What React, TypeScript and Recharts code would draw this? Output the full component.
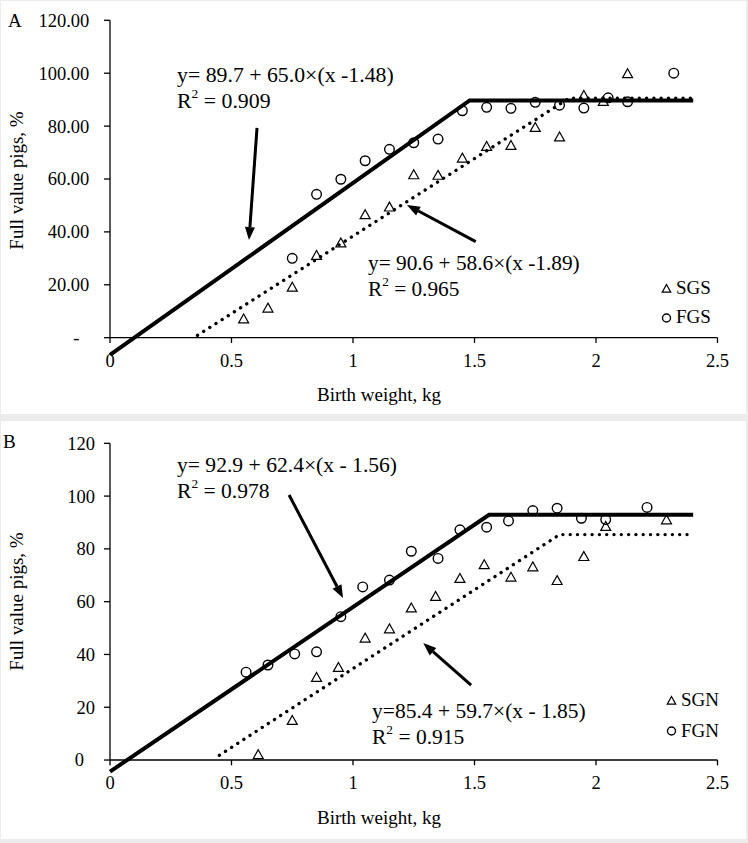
import { ComposedChart, Line, Scatter, XAxis, YAxis, ReferenceLine } from 'recharts'

const FONT = '"Liberation Serif", "Times New Roman", serif'

const xTicks = [0, 0.5, 1, 1.5, 2, 2.5]
const xTickLabels = ['0', '0.5', '1', '1.5', '2', '2.5']
const yTicks = [0, 20, 40, 60, 80, 100, 120]
const yTickLabelsA = ['-', '20.00', '40.00', '60.00', '80.00', '100.00', '120.00']
const yTickLabelsB = ['0', '20', '40', '60', '80', '100', '120']

// panel A: SGS (triangles) and FGS (circles)
const sgsX = [0.55, 0.65, 0.75, 0.85, 0.95, 1.05, 1.15, 1.25, 1.35, 1.45, 1.55, 1.65, 1.75, 1.85, 1.95, 2.03, 2.13]
const sgsY = [7.0, 11.1, 19.0, 31.0, 35.7, 46.4, 49.3, 61.5, 61.3, 67.8, 72.2, 72.6, 79.4, 75.8, 91.5, 89.2, 99.7]
const fgsX = [0.75, 0.85, 0.95, 1.05, 1.15, 1.25, 1.35, 1.45, 1.55, 1.65, 1.75, 1.85, 1.95, 2.05, 2.13, 2.32]
const fgsY = [30.0, 54.2, 59.9, 66.9, 71.2, 73.7, 75.1, 85.8, 87.1, 86.7, 89.0, 87.9, 86.8, 90.7, 89.2, 100.0]
// broken-line fits, breakpoints
const fgsFitX = [0, 1.48, 2.4]
const fgsFitY = [-6.5, 89.7, 89.7]
const sgsFitX = [0.36, 1.89, 2.4]
const sgsFitY = [0.9, 90.6, 90.6]

// panel B: SGN (triangles) and FGN (circles)
const sgnX = [0.61, 0.75, 0.85, 0.94, 1.05, 1.15, 1.24, 1.34, 1.44, 1.54, 1.65, 1.74, 1.84, 1.95, 2.04, 2.29]
const sgnY = [1.9, 14.9, 31.2, 35.0, 46.1, 49.6, 57.5, 61.9, 68.7, 73.9, 69.2, 73.1, 67.9, 77.0, 88.4, 90.9]
const fgnX = [0.56, 0.65, 0.76, 0.85, 0.95, 1.04, 1.15, 1.24, 1.35, 1.44, 1.55, 1.64, 1.74, 1.84, 1.94, 2.04, 2.21]
const fgnY = [33.3, 36.0, 40.2, 41.0, 54.3, 65.6, 68.2, 79.1, 76.4, 87.2, 88.2, 90.6, 94.5, 95.4, 91.6, 91.1, 95.7]
const fgnFitX = [0, 1.56, 2.4]
const fgnFitY = [-4.4, 92.9, 92.9]
const sgnFitX = [0.45, 1.85, 2.4]
const sgnFitY = [1.8, 85.4, 85.4]

// arrows: [startX, startY, tipX, tipY]
const arrowsA = [
  [0.605, 79.3, 0.572, 36.9],
  [1.505, 36.3, 1.222, 50.2],
]
const arrowsB = [
  [0.737, 100.4, 0.959, 61.4],
  [1.486, 28.4, 1.289, 44.3],
]

const zip = (xs: number[], ys: number[]) => xs.map((x, i) => ({ x, y: ys[i] }))

function Arrow({ x1, y1, x2, y2 }: any) {
  const ang = Math.atan2(y2 - y1, x2 - x1)
  const len = 13
  const half = 5
  const bx = x2 - len * Math.cos(ang)
  const by = y2 - len * Math.sin(ang)
  const px = -Math.sin(ang) * half
  const py = Math.cos(ang) * half
  return (
    <g>
      <line x1={x1} y1={y1} x2={bx} y2={by} stroke="#000" strokeWidth={3} />
      <polygon points={`${x2},${y2} ${bx + px},${by + py} ${bx - px},${by - py}`} fill="#000" />
    </g>
  )
}

function Tri({ cx, cy, s = 1 }: any) {
  return (
    <path
      d={`M${cx},${cy - 5.2 * s} L${cx + 5 * s},${cy + 3.7 * s} L${cx - 5 * s},${cy + 3.7 * s} Z`}
      fill="none"
      stroke="#000"
      strokeWidth={1.2}
    />
  )
}

function Circ({ cx, cy, r = 4.8 }: any) {
  return <circle cx={cx} cy={cy} r={r} fill="none" stroke="#000" strokeWidth={1.4} />
}

interface PanelProps {
  top: number
  height: number
  marginTop: number
  marginBottom: number
  tickMargin: number
  yLabels: string[]
  zeroDx: number
  triangles: { x: number; y: number }[]
  circles: { x: number; y: number }[]
  solid: { x: number; y: number }[]
  dotted: { x: number; y: number }[]
  arrows: number[][]
}

function Panel(p: PanelProps) {
  const plotTop = p.marginTop
  const plotBottom = p.height - p.marginBottom - 30
  const ppu = (plotBottom - plotTop) / 127
  const zeroY = plotTop + 120 * ppu
  return (
    <div style={{ position: 'absolute', left: 0, top: p.top }}>
      <ComposedChart
        width={748}
        height={p.height}
        margin={{ top: p.marginTop, right: 30.5, bottom: p.marginBottom, left: 40 }}
      >
        <XAxis
          type="number"
          dataKey="x"
          domain={[0, 2.5]}
          ticks={xTicks}
          axisLine={false}
          tickLine={false}
          height={30}
          tick={(t: any) => (
            <text x={t.x} y={zeroY + 29} textAnchor="middle" fontSize={18.5} fontFamily={FONT} fill="#000">
              {xTickLabels[xTicks.indexOf(t.payload.value)]}
            </text>
          )}
        />
        <YAxis
          type="number"
          dataKey="y"
          domain={[-7, 120]}
          ticks={yTicks}
          axisLine={false}
          tickLine={{ stroke: '#000', strokeWidth: 1.3 }}
          tickSize={6}
          tickMargin={p.tickMargin}
          width={70}
          tick={(t: any) => {
            const i = yTicks.indexOf(t.payload.value)
            return (
              <text
                x={t.x + (i === 0 ? p.zeroDx : 0)}
                y={t.y}
                dy="0.35em"
                textAnchor="end"
                fontSize={18.5}
                fontFamily={FONT}
                fill="#000"
              >
                {p.yLabels[i]}
              </text>
            )
          }}
        />
        <ReferenceLine y={0} stroke="#000" strokeWidth={1.3} />
        <ReferenceLine segment={[{ x: 0, y: -2 }, { x: 0, y: 120 }]} stroke="#000" strokeWidth={1.3} />
        {xTicks.slice(1).map((t) => (
          <ReferenceLine key={t} segment={[{ x: t, y: 0 }, { x: t, y: -2 }]} stroke="#000" strokeWidth={1.3} />
        ))}
        <Line
          data={p.dotted}
          dataKey="y"
          type="linear"
          stroke="#000"
          strokeWidth={3.3}
          strokeDasharray="0.1 7.2"
          strokeLinecap="round"
          dot={false}
          activeDot={false}
          isAnimationActive={false}
        />
        <Line
          data={p.solid}
          dataKey="y"
          type="linear"
          stroke="#000"
          strokeWidth={4}
          dot={false}
          activeDot={false}
          isAnimationActive={false}
        />
        <Scatter data={p.triangles} dataKey="y" shape={(s: any) => <Tri cx={s.cx} cy={s.cy} />} isAnimationActive={false} />
        <Scatter data={p.circles} dataKey="y" shape={(s: any) => <Circ cx={s.cx} cy={s.cy} />} isAnimationActive={false} />
        {p.arrows.map((a, i) => (
          <ReferenceLine
            key={'arr' + i}
            segment={[{ x: a[0], y: a[1] }, { x: a[2], y: a[3] }]}
            shape={(s: any) => <Arrow {...s} />}
          />
        ))}
      </ComposedChart>
    </div>
  )
}

function Eq({ x, y, size, line1, r2 }: { x: number; y: number; size: number; line1: string; r2: string }) {
  return (
    <g>
      <text x={x} y={y} fontSize={size} fontFamily={FONT} fill="#000">{line1}</text>
      <text x={x} y={y + 26} fontSize={size} fontFamily={FONT} fill="#000">
        R
        <tspan fontSize={size * 0.62} dy={-size * 0.45}>2</tspan>
        <tspan dy={size * 0.45}>{' = ' + r2}</tspan>
      </text>
    </g>
  )
}

export default function App() {
  const txt = { fontFamily: FONT, fill: '#000' }
  return (
    <div style={{ position: 'absolute', left: 0, top: 0, width: 748, height: 843, background: '#ececec' }}>
      <div style={{ position: 'absolute', left: 1, top: 1, width: 745, height: 413, background: '#fff' }} />
      <div style={{ position: 'absolute', left: 1, top: 421, width: 745, height: 418, background: '#fff' }} />
      <Panel
        top={0}
        height={413}
        marginTop={20.3}
        marginBottom={26.8}
        tickMargin={14.7}
        yLabels={yTickLabelsA}
        zeroDx={-10}
        triangles={zip(sgsX, sgsY)}
        circles={zip(fgsX, fgsY)}
        solid={zip(fgsFitX, fgsFitY)}
        dotted={zip(sgsFitX, sgsFitY)}
        arrows={arrowsA}
      />
      <Panel
        top={420}
        height={420}
        marginTop={23.3}
        marginBottom={31.5}
        tickMargin={9}
        yLabels={yTickLabelsB}
        zeroDx={-11}
        triangles={zip(sgnX, sgnY)}
        circles={zip(fgnX, fgnY)}
        solid={zip(fgnFitX, fgnFitY)}
        dotted={zip(sgnFitX, sgnFitY)}
        arrows={arrowsB}
      />
      <svg width={748} height={843} style={{ position: 'absolute', left: 0, top: 0, pointerEvents: 'none' }}>
        <text x={8} y={27} fontSize={19} {...txt}>A</text>
        <text x={3} y={448} fontSize={19} {...txt}>B</text>

        <text transform="translate(23,180.5) rotate(-90)" textAnchor="middle" fontSize={19} {...txt}>Full value pigs, %</text>
        <text transform="translate(23,601.5) rotate(-90)" textAnchor="middle" fontSize={19} {...txt}>Full value pigs, %</text>
        <text x={379} y={401} textAnchor="middle" fontSize={19} {...txt}>Birth weight, kg</text>
        <text x={379} y={824} textAnchor="middle" fontSize={19} {...txt}>Birth weight, kg</text>

        <Eq x={177} y={82} size={21.8} line1="y= 89.7 + 65.0×(x -1.48)" r2="0.909" />
        <Eq x={368} y={270} size={21.3} line1="y= 90.6 + 58.6×(x -1.89)" r2="0.965" />
        <Eq x={177} y={472} size={21.6} line1="y= 92.9 + 62.4×(x - 1.56)" r2="0.978" />
        <Eq x={372} y={718} size={21.5} line1="y=85.4 + 59.7×(x - 1.85)" r2="0.915" />

        <Tri cx={666.5} cy={289} s={0.85} />
        <text x={676} y={294} fontSize={19} {...txt}>SGS</text>
        <Circ cx={666.5} cy={318} r={4} />
        <text x={676} y={323} fontSize={19} {...txt}>FGS</text>
        <Tri cx={671.5} cy={701} s={0.85} />
        <text x={681} y={706} fontSize={19} {...txt}>SGN</text>
        <Circ cx={671.5} cy={731} r={4} />
        <text x={681} y={737} fontSize={19} {...txt}>FGN</text>
      </svg>
    </div>
  )
}
